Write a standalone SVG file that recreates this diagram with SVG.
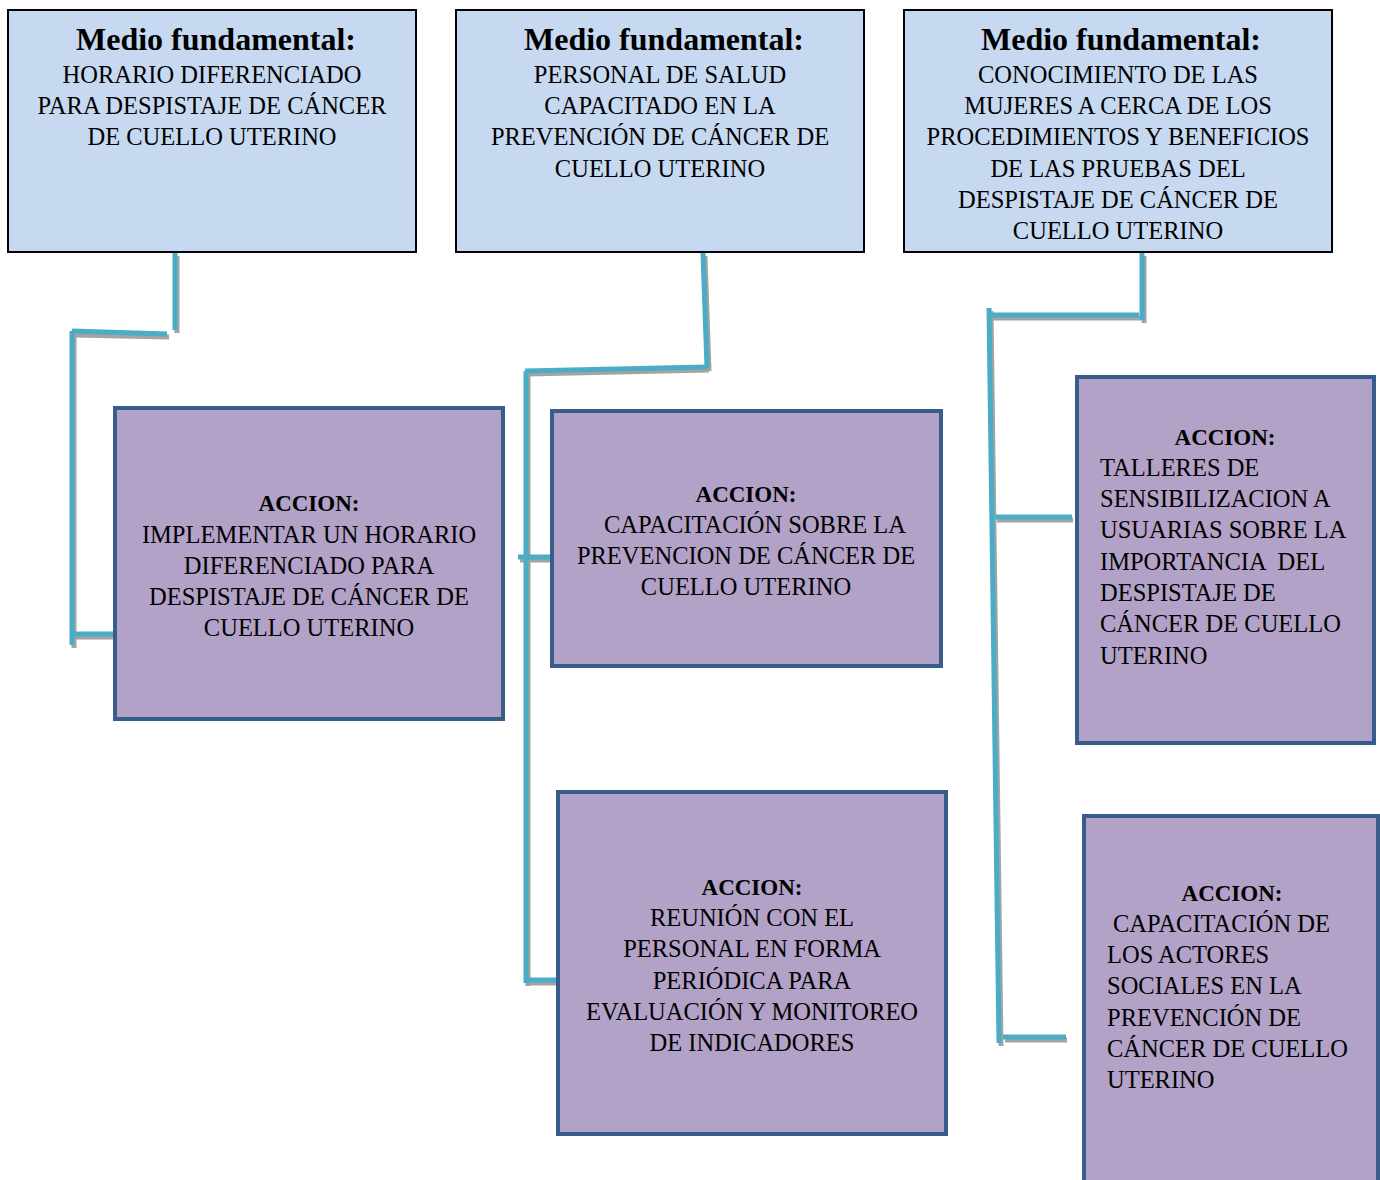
<svg xmlns="http://www.w3.org/2000/svg" width="1380" height="1180" viewBox="0 0 1380 1180">
<style>
.mf{fill:#c6d9f0;stroke:#000;stroke-width:2}
.ac{fill:#b2a2c7;stroke:#385d8a;stroke-width:4}
.t{font-family:"Liberation Serif","Times New Roman",serif;font-size:24.5px;fill:#000}
.h{font-family:"Liberation Serif","Times New Roman",serif;font-size:32px;font-weight:bold;fill:#000}
.a{font-family:"Liberation Serif","Times New Roman",serif;font-size:23px;font-weight:bold;fill:#000}
.c{text-anchor:middle}
.ln{stroke:#4bacc6;stroke-width:5;fill:none}
.sh{stroke:#9a9a9a;stroke-width:5;fill:none;opacity:0.9}
</style>
<rect width="1380" height="1180" fill="#fff"/>
<g id="connectors">
<g class="sh">
<line x1="177" y1="256" x2="177" y2="333"/>
<line x1="74" y1="335" x2="169" y2="337"/>
<line x1="74" y1="334" x2="74" y2="648"/>
<line x1="74" y1="637" x2="116" y2="637"/>
<line x1="705" y1="256" x2="709" y2="371"/>
<line x1="527" y1="374" x2="709" y2="370"/>
<line x1="528" y1="374" x2="528" y2="986"/>
<line x1="520" y1="560" x2="554" y2="560"/>
<line x1="528" y1="983" x2="559" y2="983"/>
<line x1="1144" y1="256" x2="1144" y2="323"/>
<line x1="989" y1="318" x2="1141" y2="318"/>
<line x1="991" y1="311" x2="1001" y2="1046"/>
<line x1="997" y1="520" x2="1073" y2="520"/>
<line x1="1005" y1="1040" x2="1067" y2="1040"/>
</g>
<g class="ln">
<line x1="175" y1="253" x2="175" y2="330"/>
<line x1="72" y1="331" x2="167" y2="334"/>
<line x1="72" y1="331" x2="72" y2="645"/>
<line x1="72" y1="634" x2="115" y2="634"/>
<line x1="703" y1="253" x2="707" y2="368"/>
<line x1="525" y1="371" x2="707" y2="367"/>
<line x1="526" y1="371" x2="526" y2="983"/>
<line x1="518" y1="557" x2="553" y2="557"/>
<line x1="526" y1="980" x2="558" y2="980"/>
<line x1="1142" y1="253" x2="1142" y2="320"/>
<line x1="987" y1="315" x2="1139" y2="315"/>
<line x1="989" y1="308" x2="999" y2="1043"/>
<line x1="995" y1="517" x2="1072" y2="517"/>
<line x1="1003" y1="1037" x2="1066" y2="1037"/>
</g>
</g>
<g id="mf1">
<rect class="mf" x="8" y="10" width="408" height="242"/>
<text class="h c" x="216" y="50">Medio fundamental:</text>
<text class="t c" x="212" y="83">HORARIO DIFERENCIADO</text>
<text class="t c" x="212" y="114">PARA DESPISTAJE DE CÁNCER</text>
<text class="t c" x="212" y="145">DE CUELLO UTERINO</text>
</g>
<g id="mf2">
<rect class="mf" x="456" y="10" width="408" height="242"/>
<text class="h c" x="664" y="50">Medio fundamental:</text>
<text class="t c" x="660" y="83">PERSONAL DE SALUD</text>
<text class="t c" x="660" y="114">CAPACITADO EN LA</text>
<text class="t c" x="660" y="145">PREVENCIÓN DE CÁNCER DE</text>
<text class="t c" x="660" y="177">CUELLO UTERINO</text>
</g>
<g id="mf3">
<rect class="mf" x="904" y="10" width="428" height="242"/>
<text class="h c" x="1121" y="50">Medio fundamental:</text>
<text class="t c" x="1118" y="83">CONOCIMIENTO DE LAS</text>
<text class="t c" x="1118" y="114">MUJERES A CERCA DE LOS</text>
<text class="t c" x="1118" y="145">PROCEDIMIENTOS Y BENEFICIOS</text>
<text class="t c" x="1118" y="177">DE LAS PRUEBAS DEL</text>
<text class="t c" x="1118" y="208">DESPISTAJE DE CÁNCER DE</text>
<text class="t c" x="1118" y="239">CUELLO UTERINO</text>
</g>
<g id="ac1">
<rect class="ac" x="115" y="408" width="388" height="311"/>
<text class="a c" x="309" y="511">ACCION:</text>
<text class="t c" x="309" y="543">IMPLEMENTAR UN HORARIO</text>
<text class="t c" x="309" y="574">DIFERENCIADO PARA</text>
<text class="t c" x="309" y="605">DESPISTAJE DE CÁNCER DE</text>
<text class="t c" x="309" y="636">CUELLO UTERINO</text>
</g>
<g id="ac2">
<rect class="ac" x="552" y="411" width="389" height="255"/>
<text class="a c" x="746" y="502">ACCION:</text>
<text class="t c" x="755" y="533">CAPACITACIÓN SOBRE LA</text>
<text class="t c" x="746" y="564">PREVENCION DE CÁNCER DE</text>
<text class="t c" x="746" y="595">CUELLO UTERINO</text>
</g>
<g id="ac3">
<rect class="ac" x="558" y="792" width="388" height="342"/>
<text class="a c" x="752" y="895">ACCION:</text>
<text class="t c" x="752" y="926">REUNIÓN CON EL</text>
<text class="t c" x="752" y="957">PERSONAL EN FORMA</text>
<text class="t c" x="752" y="989">PERIÓDICA PARA</text>
<text class="t c" x="752" y="1020">EVALUACIÓN Y MONITOREO</text>
<text class="t c" x="752" y="1051">DE INDICADORES</text>
</g>
<g id="ac4">
<rect class="ac" x="1077" y="377" width="297" height="366"/>
<text class="a c" x="1225" y="445">ACCION:</text>
<text class="t" x="1100" y="476">TALLERES DE</text>
<text class="t" x="1100" y="507">SENSIBILIZACION A</text>
<text class="t" x="1100" y="538">USUARIAS SOBRE LA</text>
<text class="t" x="1100" y="570" xml:space="preserve">IMPORTANCIA  DEL</text>
<text class="t" x="1100" y="601">DESPISTAJE DE</text>
<text class="t" x="1100" y="632">CÁNCER DE CUELLO</text>
<text class="t" x="1100" y="664">UTERINO</text>
</g>
<g id="ac5">
<rect class="ac" x="1084" y="816" width="294" height="380"/>
<text class="a c" x="1232" y="901">ACCION:</text>
<text class="t" x="1113" y="932">CAPACITACIÓN DE</text>
<text class="t" x="1107" y="963">LOS ACTORES</text>
<text class="t" x="1107" y="994">SOCIALES EN LA</text>
<text class="t" x="1107" y="1026">PREVENCIÓN DE</text>
<text class="t" x="1107" y="1057">CÁNCER DE CUELLO</text>
<text class="t" x="1107" y="1088">UTERINO</text>
</g>
</svg>
